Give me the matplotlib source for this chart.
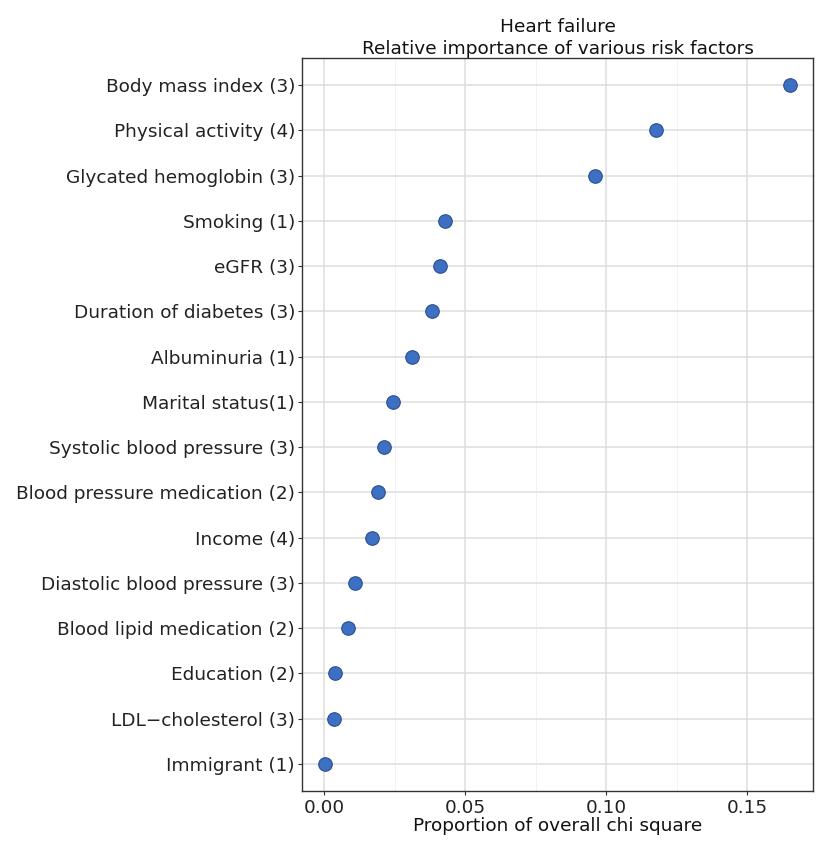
import matplotlib
matplotlib.use('Agg')
import matplotlib.pyplot as plt
from matplotlib.ticker import MultipleLocator

# risk factors, ordered top to bottom, with number of df in brackets
factors = [
    'Body mass index (3)', 'Physical activity (4)', 'Glycated hemoglobin (3)',
    'Smoking (1)', 'eGFR (3)', 'Duration of diabetes (3)', 'Albuminuria (1)',
    'Marital status(1)', 'Systolic blood pressure (3)',
    'Blood pressure medication (2)', 'Income (4)',
    'Diastolic blood pressure (3)', 'Blood lipid medication (2)',
    'Education (2)', 'LDL\u2212cholesterol (3)', 'Immigrant (1)',
]
chi_share = [
    0.165, 0.1176, 0.0961, 0.0430, 0.0411, 0.0382, 0.0312, 0.0245,
    0.0214, 0.0190, 0.0168, 0.0108, 0.0083, 0.0039, 0.0036, 0.0004,
]
x_ticks = [0.00, 0.05, 0.10, 0.15]
x_ticklabels = ['0.00', '0.05', '0.10', '0.15']

plt.rcParams['font.family'] = ['DejaVu Sans']
FS = 13.3

fig = plt.figure(figsize=(8.16, 8.44), dpi=100)
ax = fig.add_axes([0.3701, 0.0628, 0.6262, 0.8685])

n = len(factors)
ypos = list(range(n - 1, -1, -1))
ax.scatter(chi_share, ypos, s=95, color='#3d6fc2', edgecolors='#2b4f8c',
           linewidths=0.8, zorder=3)

# ggplot-like expansion
lo, hi = min(chi_share), max(chi_share)
pad = (hi - lo) * 0.05
ax.set_xlim(lo - pad, hi + pad)
ax.set_ylim(-0.6, n - 1 + 0.6)

ax.set_xticks(x_ticks)
ax.set_xticklabels(x_ticklabels)
ax.xaxis.set_minor_locator(MultipleLocator(0.025))
ax.set_yticks(ypos)
ax.set_yticklabels(factors)

ax.grid(which='major', color='#dedede', linewidth=1.1, zorder=0)
ax.grid(which='minor', axis='x', color='#f0f0f0', linewidth=0.6, zorder=0)
ax.set_axisbelow(True)
ax.tick_params(which='major', length=3, width=0.8, color='#333333',
               labelsize=FS, labelcolor='#222222', pad=2)
ax.tick_params(axis='x', pad=3)
ax.tick_params(which='minor', length=0)
for sp in ax.spines.values():
    sp.set_color('#333333')
    sp.set_linewidth(1.0)

ax.set_xlabel('Proportion of overall chi square', fontsize=FS,
              color='#111111', labelpad=0)
ax.set_title('Heart failure\nRelative importance of various risk factors',
             fontsize=FS, color='#111111', pad=3, linespacing=1.25)

fig.savefig('out.png', dpi=100, facecolor='white')
